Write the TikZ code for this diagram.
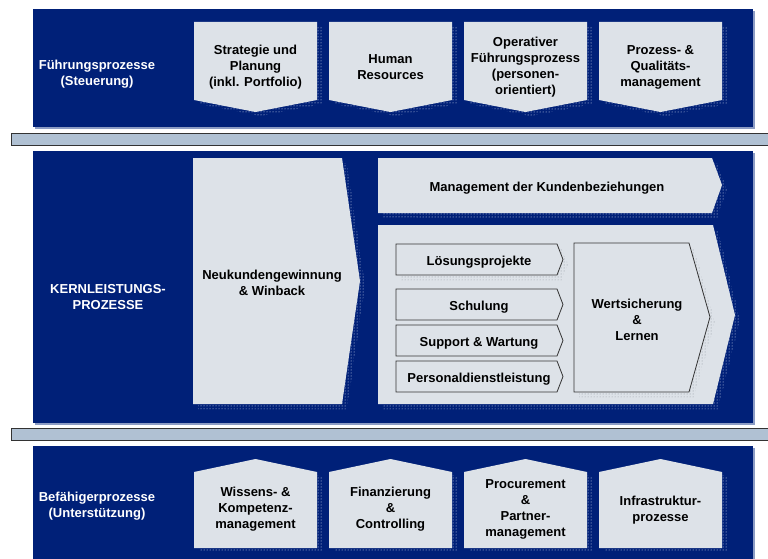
\documentclass[tikz,border=0pt]{standalone}
\usepackage{fontspec}
\setmainfont{Liberation Sans}
\usetikzlibrary{patterns}
\definecolor{navy}{RGB}{0,32,120}
\definecolor{bandedge}{RGB}{140,156,196}
\definecolor{boxgray}{RGB}{221,226,232}
\definecolor{barblue}{RGB}{176,193,211}
\definecolor{dotlight}{RGB}{225,232,248}
\definecolor{dotgray}{RGB}{140,148,158}
\begin{document}
\begin{tikzpicture}[x=1pt,y=-1pt,
  band/.style={fill=navy},
  bandshade/.style={fill=bandedge},
  sepbar/.style={fill=barblue, draw=black!80, line width=1pt},
  procbox/.style={fill=boxgray},
  subbox/.style={fill=boxgray, draw=black!80, line width=0.8pt},
  dotshade/.style={pattern=dots, pattern color=#1},
  dotshade/.default=dotlight,
  lbl/.style={font=\bfseries\fontsize{13}{16}\selectfont, align=center, inner sep=0pt},
  white lbl/.style={lbl, text=white},
]
\useasboundingbox (0,0) rectangle (768,559);

% --- three navy bands with their light edge
\fill[bandshade] (35,11) rectangle (755,129);
\fill[band] (33,9) rectangle (753,127);
\fill[bandshade] (35,153) rectangle (755,425);
\fill[band] (33,151) rectangle (753,423);
\fill[bandshade] (35,448) rectangle (755,570);
\fill[band] (33,446) rectangle (753,570);

% --- separator bars
\draw[sepbar] (11.5,133.5) rectangle (775,145.5);
\draw[sepbar] (11.5,428.5) rectangle (775,440.5);

% --- management processes (pointing down)
\foreach \xl in {194,329,464,599} {
  \fill[dotshade, shift={(5,4)}] (\xl,22) -- ++(123,0) -- ++(0,78) -- ++(-61.5,12) -- ++(-61.5,-12) -- cycle;
  \fill[procbox] (\xl,22) -- ++(123,0) -- ++(0,78) -- ++(-61.5,12) -- ++(-61.5,-12) -- cycle;
}
\node[white lbl] (fp) at (97,74) {Führungsprozesse\\(Steuerung)};
\node[lbl] (st) at (255.5,67) {Strategie und\\Planung\\(inkl. Portfolio)};
\node[lbl] (hr) at (390.5,67) {Human\\Resources};
\node[lbl] (op) at (525.5,67) {Operativer\\Führungsprozess\\(personen-\\orientiert)};
\node[lbl] (pq) at (660.5,67) {Prozess- \&\\Qualitäts-\\management};

% --- core processes
\fill[dotshade, shift={(5,5)}] (193,158) -- (342,158) -- (360,281) -- (342,404) -- (193,404) -- cycle;
\fill[procbox] (193,158) -- (342,158) -- (360,281) -- (342,404) -- (193,404) -- cycle;
\fill[dotshade, shift={(5,5)}] (378,158) -- (712,158) -- (722,185) -- (712,213) -- (378,213) -- cycle;
\fill[procbox] (378,158) -- (712,158) -- (722,185) -- (712,213) -- (378,213) -- cycle;
\fill[dotshade, shift={(5,5)}] (378,225) -- (713,225) -- (735,315) -- (713,404) -- (378,404) -- cycle;
\fill[procbox] (378,225) -- (713,225) -- (735,315) -- (713,404) -- (378,404) -- cycle;

% service lines inside the delivery block
\fill[dotshade=dotgray, shift={(5,5)}] (396,244) -- (557,244) -- (563,259.5) -- (557,275) -- (396,275) -- cycle;
\draw[subbox] (396,244) -- (557,244) -- (563,259.5) -- (557,275) -- (396,275) -- cycle;
\draw[subbox] (396,289) -- (557,289) -- (563,304.5) -- (557,320) -- (396,320) -- cycle;
\draw[subbox] (396,325) -- (557,325) -- (563,340.5) -- (557,356) -- (396,356) -- cycle;
\draw[subbox] (396,361) -- (557,361) -- (563,376.5) -- (557,392) -- (396,392) -- cycle;
\fill[dotshade=dotgray, shift={(5,5)}] (574,243) -- (689,243) -- (710,317) -- (689,392) -- (574,392) -- cycle;
\draw[subbox] (574,243) -- (689,243) -- (710,317) -- (689,392) -- (574,392) -- cycle;

\node[white lbl] (kp) at (108,297) {KERNLEISTUNGS-\\PROZESSE};
\node[lbl] (nk) at (272,283) {Neukundengewinnung\\\& Winback};
\node[lbl] (mk) at (547,188) {Management der Kundenbeziehungen};
\node[lbl] (lp) at (479,262) {Lösungsprojekte};
\node[lbl] (sc) at (479,307) {Schulung};
\node[lbl] (sw) at (479,343) {Support \& Wartung};
\node[lbl] (pd) at (479,379) {Personaldienstleistung};
\node[lbl] (wl) at (637,320) {Wertsicherung\\\&\\Lernen};

% --- enabling processes (pointing up)
\foreach \xl in {194,329,464,599} {
  \fill[dotshade, shift={(5,4)}] (\xl,472) -- ++(61.5,-13) -- ++(61.5,13) -- ++(0,76) -- ++(-123,0) -- cycle;
  \fill[procbox] (\xl,472) -- ++(61.5,-13) -- ++(61.5,13) -- ++(0,76) -- ++(-123,0) -- cycle;
}
\node[white lbl] (bp) at (97,506) {Befähigerprozesse\\(Unterstützung)};
\node[lbl] (wk) at (255.5,509) {Wissens- \&\\Kompetenz-\\management};
\node[lbl] (fc) at (390.5,509) {Finanzierung\\\&\\Controlling};
\node[lbl] (pm) at (525.5,509) {Procurement\\\&\\Partner-\\management};
\node[lbl] (ip) at (660.5,510) {Infrastruktur-\\prozesse};
\end{tikzpicture}
\end{document}
